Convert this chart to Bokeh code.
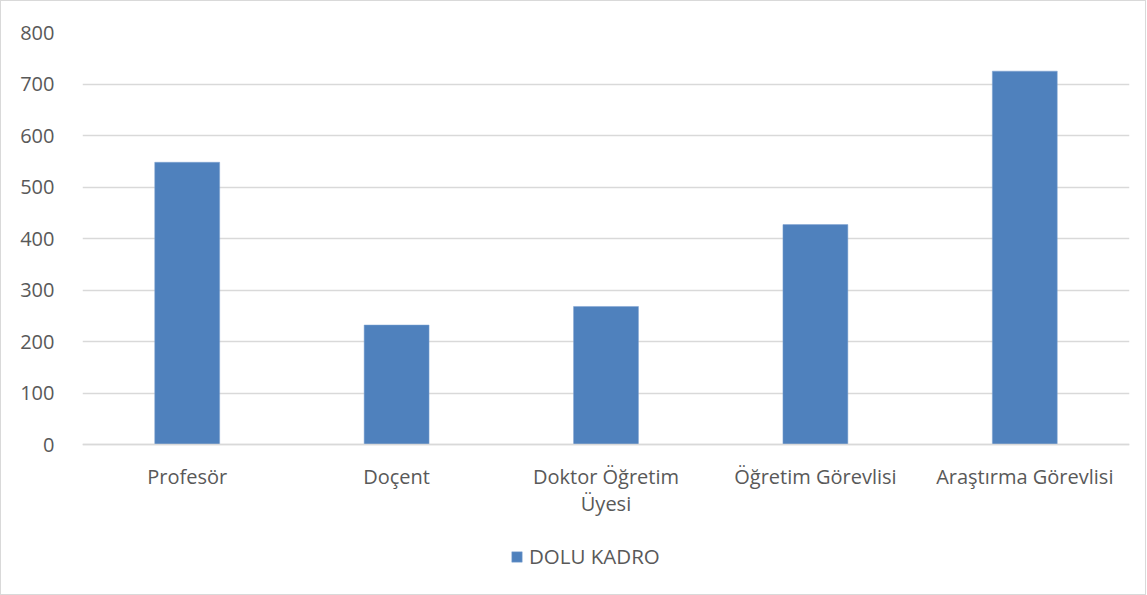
from bokeh.plotting import figure
from bokeh.models import ColumnDataSource, Legend, LegendItem, FixedTicker, CategoricalAxis
from bokeh.embed import file_html
from bokeh.resources import INLINE

categories = ["Profesör", "Doçent", "Doktor Öğretim\nÜyesi", "Öğretim Görevlisi", "Araştırma Görevlisi"]
values = [548, 232, 268, 427, 725]
series_name = "DOLU KADRO"
y_ticks = [0, 100, 200, 300, 400, 500, 600, 700, 800]

FONT = "Open Sans"
TXT = "#595959"
GRID = "#D9D9D9"
BAR = "#4F81BD"

src = ColumnDataSource(dict(cat=categories, val=values))

# y range extends below zero so the category labels and legend sit inside the frame
p = figure(x_range=categories, y_range=(-291.26, 800), output_backend="svg",
           toolbar_location=None, frame_width=1047, frame_height=562,
           x_axis_location=None,
           min_border_left=81, min_border_top=31, min_border_right=16, min_border_bottom=0)

r = p.vbar(x="cat", top="val", width=0.31, source=src, fill_color=BAR,
           line_color="#7FA3D0", line_width=0.5)

p.outline_line_color = None
p.styles = {"border": "1px solid #D9D9D9"}
p.xgrid.grid_line_color = None

ticker = FixedTicker(ticks=y_ticks)
p.yaxis.ticker = ticker
p.ygrid.ticker = ticker
p.yaxis.axis_line_color = None
p.yaxis.major_tick_line_color = None
p.yaxis.minor_tick_line_color = None
p.yaxis.major_label_text_font = FONT
p.yaxis.major_label_text_font_size = "20px"
p.yaxis.major_label_text_color = TXT
p.yaxis.major_label_standoff = 22
p.ygrid.grid_line_color = GRID
p.ygrid.grid_line_width = 1.5

xaxis = CategoricalAxis(fixed_location=0)
xaxis.axis_line_color = GRID
xaxis.axis_line_width = 1.5
xaxis.major_tick_line_color = None
xaxis.minor_tick_line_color = None
xaxis.major_label_text_font = FONT
xaxis.major_label_text_font_size = "20px"
xaxis.major_label_text_color = TXT
xaxis.major_label_text_line_height = 1.0
xaxis.major_label_standoff = 12
p.add_layout(xaxis, "below")

legend = Legend(items=[LegendItem(label=series_name, renderers=[r])],
                location=(428, 24), orientation="horizontal",
                label_text_font=FONT, label_text_font_size="20.5px",
                label_text_color=TXT, glyph_width=13, glyph_height=13,
                label_standoff=6, border_line_color=None, background_fill_alpha=0,
                margin=0, padding=2)
p.add_layout(legend, "center")

open("out.html", "w").write(file_html(p, INLINE))
